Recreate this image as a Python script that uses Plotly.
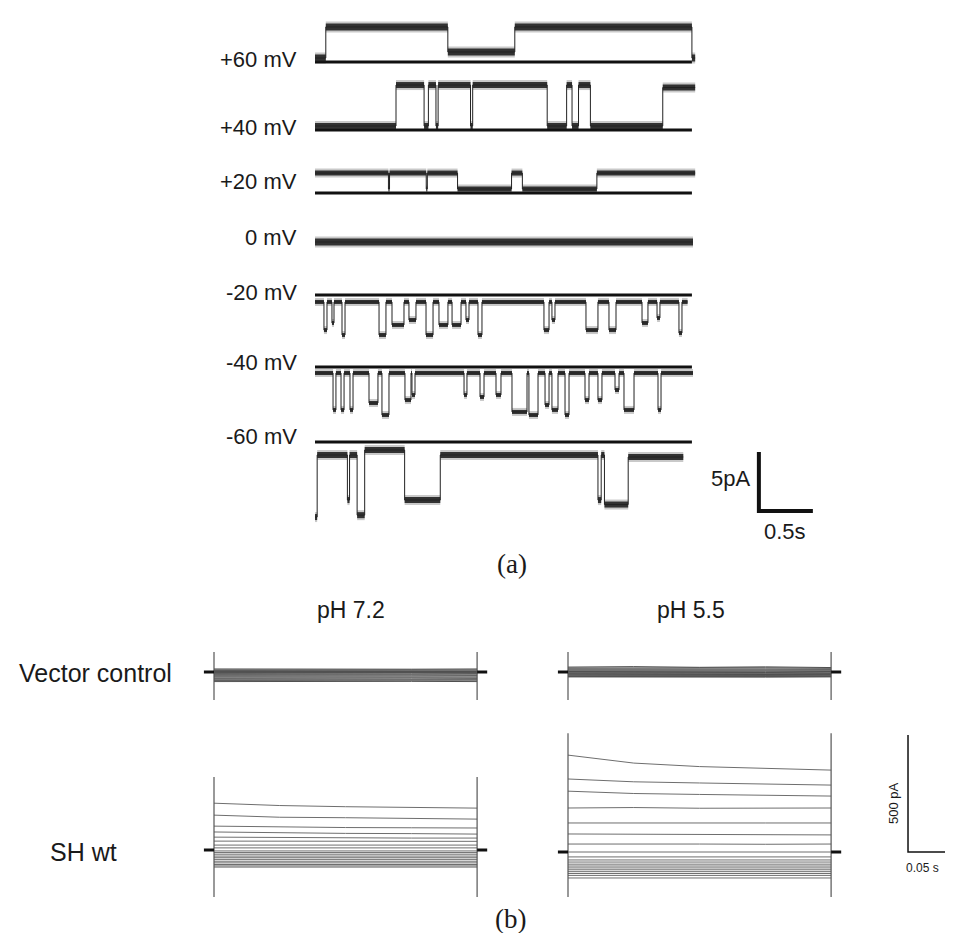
import plotly.graph_objects as go

W, H = 953, 941
OFF = 8                         # the page body adds an 8 px margin around the plot
FW, FH = W - OFF, H - 2 * OFF   # keep the page free of vertical overflow
SANS = "Liberation Sans, Arial, sans-serif"
SERIF = "Liberation Serif, DejaVu Serif, serif"

# ---------------- Panel (a): single-channel records ----------------
VOLT_LABELS = ["+60 mV", "+40 mV", "+20 mV", "0 mV", "-20 mV", "-40 mV", "-60 mV"]

# piecewise-constant records: edges (s) and current levels (pA)
P60_T = [0, 0.10, 1.23, 1.85, 3.49, 3.52]
P60_I = [0.34, 2.97, 0.85, 2.97, 0.34]

P40_T = [0, 0.75, 1.01, 1.05, 1.12, 1.14, 1.44, 1.46, 2.15, 2.33, 2.38, 2.44, 2.55, 3.22, 3.52]
P40_I = [0.34, 3.81, 0.34, 3.81, 0.34, 3.81, 0.34, 3.81, 0.34, 3.81, 0.34, 3.81, 0.34, 3.6]

P20_T = [0, 0.68, 0.69, 1.03, 1.04, 1.32, 1.82, 1.92, 2.61, 3.52]
P20_I = [1.69, 0.34, 1.69, 0.34, 1.69, 0.34, 1.69, 0.34, 1.69]

P0_T = [0, 3.50]
P0_I = [0.0]

M60_T = [0, 0.02, 0.30, 0.32, 0.39, 0.46, 0.83, 1.16, 2.62, 2.65, 2.68, 2.90, 3.41]
M60_I = [-6.36, -1.10, -4.92, -1.10, -6.20, -0.68, -4.92, -1.10, -4.92, -1.10, -5.30, -1.27]

# flickery records: closed level + opening events (start s, end s, level pA)
M20_CLOSED, M20_END = -0.59, 3.45
M20_START = [0.083, 0.157, 0.250, 0.593, 0.713, 0.870, 1.028, 1.148, 1.269, 1.398, 1.509,
             2.120, 2.194, 2.509, 2.722, 3.028, 3.167, 3.370]
M20_STOP = [0.111, 0.176, 0.278, 0.657, 0.824, 0.935, 1.093, 1.231, 1.352, 1.426, 1.546,
            2.167, 2.222, 2.620, 2.787, 3.083, 3.194, 3.398]
M20_LEVEL = [-2.97, -2.37, -3.39, -3.39, -2.54, -2.12, -3.39, -2.54, -2.54, -2.12, -3.39,
             -2.97, -2.12, -2.97, -2.97, -2.37, -1.95, -3.22]

M40_CLOSED, M40_END = -0.51, 3.50
M40_START = [0.167, 0.241, 0.324, 0.500, 0.620, 0.833, 0.898, 1.380, 1.528, 1.676, 1.824,
             1.981, 2.130, 2.194, 2.315, 2.500, 2.620, 2.778, 2.861, 3.176]
M40_STOP = [0.194, 0.269, 0.352, 0.583, 0.685, 0.889, 0.926, 1.407, 1.565, 1.722, 1.963,
            2.065, 2.167, 2.250, 2.352, 2.537, 2.657, 2.815, 2.954, 3.204]
M40_LEVEL = [-3.64, -3.64, -3.64, -3.05, -4.07, -2.80, -2.37, -2.37, -2.54, -2.37, -3.81,
             -4.07, -3.22, -3.64, -4.07, -2.80, -2.80, -1.95, -3.64, -3.64]

BASELINE_END = 3.49  # closed-level reference line length (s)

# ---------------- Panel (b): whole-cell current families ----------------
TB = [0, 0.075, 0.15, 0.225, 0.30]   # s

VC72 = [[13, 12, 13, 12, 13], [9, 9, 10, 9, 9], [6, 5, 6, 6, 5], [2, 2, 3, 2, 2],
        [-2, -2, -1, -2, -2], [-6, -5, -6, -5, -6], [-10, -9, -10, -10, -9],
        [-14, -13, -14, -13, -14], [-18, -17, -18, -18, -17], [-22, -22, -21, -22, -22],
        [-27, -26, -27, -26, -27], [-31, -31, -30, -31, -31], [-36, -35, -36, -36, -35],
        [-41, -40, -41, -40, -41]]
VC55 = [[21, 23, 20, 22, 19], [17, 18, 16, 18, 16], [13, 14, 12, 13, 12], [9, 9, 8, 9, 9],
        [5, 5, 4, 5, 5], [2, 1, 2, 1, 2], [-1, -2, -1, -2, -1], [-4, -5, -4, -4, -5],
        [-7, -8, -7, -8, -7], [-10, -11, -10, -10, -11], [-13, -14, -13, -14, -13],
        [-16, -16, -17, -16, -16], [-19, -19, -20, -19, -19], [-21, -22, -21, -22, -21]]
SH72 = [[200, 190, 185, 182, 179], [149, 140, 138, 136, 132], [102, 98, 96, 95, 94],
        [77, 73, 71, 70, 68], [55, 53, 52, 51, 51], [38, 38, 37, 37, 37],
        [21, 21, 21, 21, 21], [9, 9, 9, 9, 9], [-4, -4, -4, -4, -4], [-11, -11, -11, -11, -11],
        [-18, -18, -18, -18, -18], [-26, -26, -26, -26, -26], [-33, -33, -33, -33, -33],
        [-40, -40, -40, -40, -40], [-48, -48, -48, -48, -48], [-55, -55, -55, -55, -55],
        [-62, -62, -62, -62, -62], [-68, -68, -68, -68, -68], [-73, -73, -73, -73, -73]]
SH55 = [[414, 380, 365, 358, 350], [312, 300, 295, 290, 286], [260, 250, 246, 243, 239],
        [188, 190, 187, 188, 188], [124, 125, 123, 124, 124], [77, 76, 75, 74, 73],
        [34, 35, 34, 33, 34], [0, 0, 0, 0, 0], [-21, -21, -21, -21, -21],
        [-34, -34, -34, -34, -34], [-43, -43, -43, -43, -43], [-52, -52, -52, -52, -52],
        [-60, -60, -60, -60, -60], [-68, -68, -68, -68, -68], [-76, -76, -76, -76, -76],
        [-84, -84, -84, -84, -84], [-92, -92, -92, -92, -92], [-100, -100, -100, -100, -100],
        [-111, -111, -111, -111, -111]]
# capacitive transient extremes (pA) at pulse on/off
VC_TRANS = [85, -120]
SH72_TRANS = [312, -201]
SH55_TRANS = [508, -192]

# ---------------- geometry helpers (window pixels -> figure fractions) ----------------
def xdom(px0, px1):
    return [max(0, (px0 - OFF) / FW), min(1, (px1 - OFF) / FW)]

def ydom(top, bot):
    return [max(0, 1 - (bot - OFF) / FH), min(1, 1 - (top - OFF) / FH)]

def xrng(px0, px1, zero, ppu):
    px0, px1 = max(px0, OFF), min(px1, OFF + FW)
    return [(px0 - zero) / ppu, (px1 - zero) / ppu]

def yrng(top, bot, zero, ppu):
    top, bot = max(top, OFF), min(bot, OFF + FH)
    return [(zero - bot) / ppu, (zero - top) / ppu]

def steps(edges, levels):
    xs, ys = [], []
    for i, lv in enumerate(levels):
        xs += [edges[i], edges[i + 1]]
        ys += [lv, lv]
    return xs, ys

def bands(edges, levels):
    xs, ys = [], []
    for i, lv in enumerate(levels):
        xs += [edges[i], edges[i + 1], None]
        ys += [lv, lv, None]
    return xs, ys

def events(closed, end, st, sp, lv):
    e, l = [0], []
    for a, b, v in zip(st, sp, lv):
        l.append(closed); e.append(a)
        l.append(v); e.append(b)
    l.append(closed); e.append(end)
    return e, l

fig = go.Figure()
layout = dict(width=FW, height=FH, margin=dict(l=0, r=0, t=0, b=0), autosize=False,
              paper_bgcolor="white", plot_bgcolor="rgba(0,0,0,0)", showlegend=False)

# ---- panel (a) axes
A_ZERO_X, A_PPS = 315, 108.0     # px at t=0, px per second
A_PPA = 11.8                      # px per pA
A_BASE_PX = [62, 130, 193, 242, 295, 367, 442]
A_LABEL_PX = [60, 127, 182, 237, 293, 362, 437]
layout["xaxis"] = dict(domain=xdom(300, 840), range=xrng(300, 840, A_ZERO_X, A_PPS),
                       visible=False, anchor="y")
records = [
    (P60_T, P60_I, 7, True),
    (P40_T, P40_I, 6, True),
    (P20_T, P20_I, 5, True),
    (P0_T, P0_I, 7, False),
    (*events(M20_CLOSED, M20_END, M20_START, M20_STOP, M20_LEVEL), 4, True),
    (*events(M40_CLOSED, M40_END, M40_START, M40_STOP, M40_LEVEL), 4, True),
    (M60_T, M60_I, 6, True),
]
for k, (edges, levels, bw, base) in enumerate(records):
    name = "yaxis" if k == 0 else f"yaxis{k + 1}"
    yref = "y" if k == 0 else f"y{k + 1}"
    b = A_BASE_PX[k]
    top, bot = b - 55, b + 85
    layout[name] = dict(domain=ydom(top, bot), range=yrng(top, bot, b, A_PPA),
                        visible=False, anchor="x")
    bx, by = bands(edges, levels)
    # soft outer fuzz of the recording noise
    fig.add_trace(go.Scatter(x=bx, y=by, xaxis="x", yaxis=yref, mode="lines",
                             line=dict(color="#8a8a8a", width=bw + 4), opacity=0.45,
                             hoverinfo="skip"))
    if base:
        fig.add_trace(go.Scatter(x=[0, BASELINE_END], y=[0, 0], xaxis="x", yaxis=yref,
                                 mode="lines", line=dict(color="#111", width=3),
                                 hoverinfo="skip"))
    fig.add_trace(go.Scatter(x=bx, y=by, xaxis="x", yaxis=yref, mode="lines",
                             line=dict(color="#222", width=bw), opacity=0.9,
                             hoverinfo="skip"))
    sx, sy = steps(edges, levels)
    fig.add_trace(go.Scatter(x=sx, y=sy, xaxis="x", yaxis=yref, mode="lines",
                             line=dict(color="#222", width=1), hoverinfo="skip"))

# scale bar (a): 5 pA / 0.5 s, drawn on the -60 mV axes
SB_A_T0, SB_A_TOP = 4.11, -0.85
fig.add_trace(go.Scatter(x=[SB_A_T0, SB_A_T0, SB_A_T0 + 0.5],
                         y=[SB_A_TOP, SB_A_TOP - 5, SB_A_TOP - 5],
                         xaxis="x", yaxis="y7", mode="lines",
                         line=dict(color="#111", width=4), hoverinfo="skip"))

# ---- panel (b) axes
B_PPS, B_PPA = 877.0, 0.234
layout["xaxis8"] = dict(domain=xdom(195, 505), range=xrng(195, 505, 214, B_PPS),
                        visible=False, anchor="y8")
layout["xaxis9"] = dict(domain=xdom(540, 953), range=xrng(540, 953, 568, B_PPS),
                        visible=False, anchor="y9")
cells = [  # (xref, yref, top px, bottom px, holding px, family, transient, colour)
    ("x8", "y8", 640, 712, 672, VC72, VC_TRANS, "#505050"),
    ("x9", "y9", 640, 712, 672, VC55, VC_TRANS, "#505050"),
    ("x8", "y10", 725, 905, 850, SH72, SH72_TRANS, "#6e6e6e"),
    ("x9", "y11", 725, 905, 852, SH55, SH55_TRANS, "#6e6e6e"),
]
for xr, yr, top, bot, zero, fam, tr, col in cells:
    layout["yaxis" + yr[1:]] = dict(domain=ydom(top, bot), range=yrng(top, bot, zero, B_PPA),
                                    visible=False, anchor=xr)
    for trace in fam:
        fig.add_trace(go.Scatter(x=TB, y=trace, xaxis=xr, yaxis=yr, mode="lines",
                                 line=dict(color=col, width=1), hoverinfo="skip"))
    for t in (TB[0], TB[-1]):
        fig.add_trace(go.Scatter(x=[t, t], y=tr, xaxis=xr, yaxis=yr, mode="lines",
                                 line=dict(color="#555", width=1.2), hoverinfo="skip"))
    for seg in ([TB[0] - 0.0115, TB[0]], [TB[-1], TB[-1] + 0.0115]):
        fig.add_trace(go.Scatter(x=seg, y=[0, 0], xaxis=xr, yaxis=yr, mode="lines",
                                 line=dict(color="#111", width=3), hoverinfo="skip"))

# scale bar (b): 500 pA / 0.05 s on the SH wt pH 5.5 axes
SB_B_T0 = 0.3877
fig.add_trace(go.Scatter(x=[SB_B_T0, SB_B_T0, SB_B_T0 + 0.05], y=[500, 0, 0],
                         xaxis="x9", yaxis="y11", mode="lines",
                         line=dict(color="#111", width=1.5), hoverinfo="skip"))

# ---- text
def ann(text, px, py, size, xa="center", ya="middle", family=SANS, angle=0):
    return dict(text=text, x=(px - OFF) / FW, y=1 - (py - OFF) / FH, xref="paper",
                yref="paper", showarrow=False, xanchor=xa, yanchor=ya, textangle=angle,
                font=dict(size=size, family=family, color="#1a1a1a"))

annotations = [ann(lbl, 299, py, 22, xa="right") for lbl, py in zip(VOLT_LABELS, A_LABEL_PX)]
annotations += [
    ann("5pA", 730, 478, 22),
    ann("0.5s", 785, 531, 22),
    ann("(a)", 512, 564, 27, family=SERIF),
    ann("pH 7.2", 351, 610, 23),
    ann("pH 5.5", 691, 610, 23),
    ann("Vector control", 95, 673, 25),
    ann("SH wt", 83, 852, 25),
    ann("500 pA", 893, 803, 13, angle=-90),
    ann("0.05 s", 941, 868, 12, xa="right"),
    ann("(b)", 511, 919, 27, family=SERIF),
]
layout["annotations"] = annotations
fig.update_layout(**layout)
fig.write_html("out.html")
